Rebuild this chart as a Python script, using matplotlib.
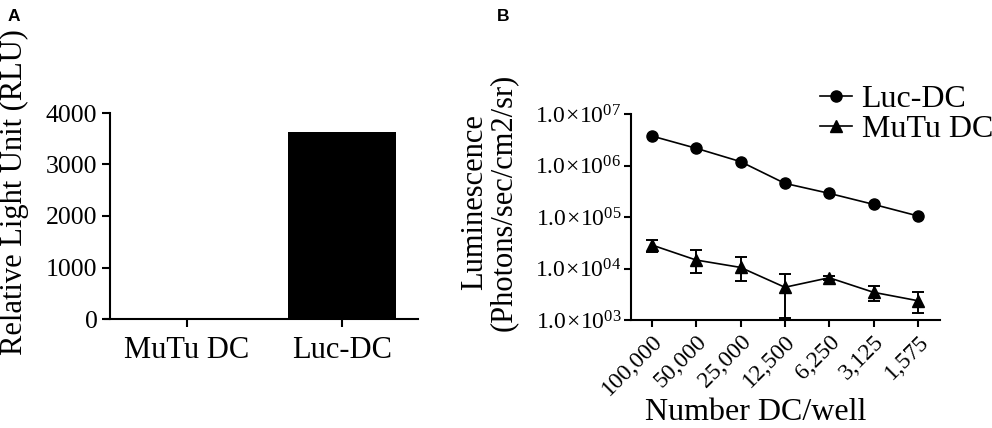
import numpy as np
import matplotlib
matplotlib.use('Agg')
import matplotlib.pyplot as plt
from matplotlib.lines import Line2D
from matplotlib.ticker import LogLocator, FixedLocator, NullFormatter

plt.rcParams['font.family'] = 'Liberation Serif'
plt.rcParams['mathtext.fontset'] = 'custom'
plt.rcParams['mathtext.rm'] = 'Liberation Serif'
plt.rcParams['mathtext.it'] = 'Liberation Serif'
plt.rcParams['axes.linewidth'] = 1.5

# panel A data
cells_a = ["MuTu DC", "Luc-DC"]
rlu = [0, 3630]

# panel B data
dc_labels = ["100,000", "50,000", "25,000", "12,500", "6,250", "3,125", "1,575"]
luc_dc = [3.74e6, 2.16e6, 1.19e6, 4.5e5, 2.88e5, 1.76e5, 1.05e5]
mutu_dc = [2.86e4, 1.46e4, 1.05e4, 4.32e3, 6.62e3, 3.45e3, 2.37e3]
mutu_lo = [2.12e4, 8.28e3, 5.71e3, 1.11e3, 6.0e3, 2.37e3, 1.39e3]
mutu_hi = [3.6e4, 2.29e4, 1.69e4, 7.71e3, 7.3e3, 4.5e3, 3.45e3]

W, H = 992, 428
fig = plt.figure(figsize=(W / 100, H / 100), dpi=100)


def px_axes(left, top, right, bottom):
    return fig.add_axes([left / W, 1 - bottom / H, (right - left) / W, (bottom - top) / H])


# ---------- A ----------
ax = px_axes(105, 113, 418, 319)
x = np.arange(len(cells_a))
ax.bar(x, rlu, width=0.7, color='black')
ax.set_xlim(-0.529, 1.49)
ax.set_ylim(0, 4000)
ax.set_yticks([0, 1000, 2000, 3000, 4000])
ax.set_xticks(x)
ax.set_xticklabels(cells_a, fontsize=22)
ax.spines['top'].set_visible(False)
ax.spines['right'].set_visible(False)
ax.spines['left'].set_position(('axes', 5 / 313))
ax.tick_params(axis='y', labelsize=18.5, width=1.5, length=6, pad=3)
ax.tick_params(axis='x', width=1.5, length=6, pad=6)
ax.set_ylabel("Relative Light Unit (RLU)", fontsize=22)
ax.yaxis.set_label_coords(-0.243, 0.617)
fig.text(8 / W, 1 - 21 / H, "A", fontsize=12.5, fontweight='bold', family='Liberation Sans')

# ---------- B ----------
bx = px_axes(631, 114, 940, 320)
xb = np.arange(len(dc_labels))
bx.plot(xb, luc_dc, color='black', lw=1.2, marker='o', ms=8)
yerr = [np.array(mutu_dc) - np.array(mutu_lo), np.array(mutu_hi) - np.array(mutu_dc)]
bx.errorbar(xb, mutu_dc, yerr=yerr, color='black', lw=1.2, marker='^', ms=8,
            capsize=4.5, capthick=1.4, elinewidth=1.4)
bx.set_yscale('log')
bx.set_ylim(1e3, 1e7)
bx.set_xlim(-0.47, 6.5)
bx.yaxis.set_major_locator(FixedLocator([1e3, 1e4, 1e5, 1e6, 1e7]))
bx.yaxis.set_minor_locator(LogLocator(base=10, subs=np.arange(2, 10)))
bx.yaxis.set_minor_formatter(NullFormatter())
bx.set_yticklabels([r'$1.0\!\times\!10^{0%d}$' % k for k in range(3, 8)])
bx.set_xticks(xb)
bx.set_xticklabels(dc_labels, rotation=45, ha='right', rotation_mode='anchor', fontsize=17)
bx.spines['top'].set_visible(False)
bx.spines['right'].set_visible(False)
bx.tick_params(axis='y', which='major', labelsize=17, width=1.5, length=5, pad=2)
bx.tick_params(axis='y', which='minor', width=1.0, length=3)
bx.tick_params(axis='x', width=1.5, length=5, pad=3)
bx.set_ylabel("Luminescence\n(Photons/sec/cm2/sr)", fontsize=22, linespacing=1.0)
bx.yaxis.set_label_coords(-0.365, 0.573)
bx.set_xlabel("Number DC/well", fontsize=23)
bx.xaxis.set_label_coords(0.405, -0.38)
handles = [Line2D([], [], color='black', lw=1.2, marker='o', ms=8),
           Line2D([], [], color='black', lw=1.2, marker='^', ms=8)]
fig.legend(handles, ["Luc-DC", "MuTu DC"], loc='upper left', bbox_to_anchor=(820 / W, 1 - 85 / H),
           frameon=False, fontsize=23, handlelength=1.0, handletextpad=0.3,
           labelspacing=0.0, borderpad=0, borderaxespad=0)
fig.text(497 / W, 1 - 21 / H, "B", fontsize=12.5, fontweight='bold', family='Liberation Sans')

fig.savefig("out.png", dpi=100)
